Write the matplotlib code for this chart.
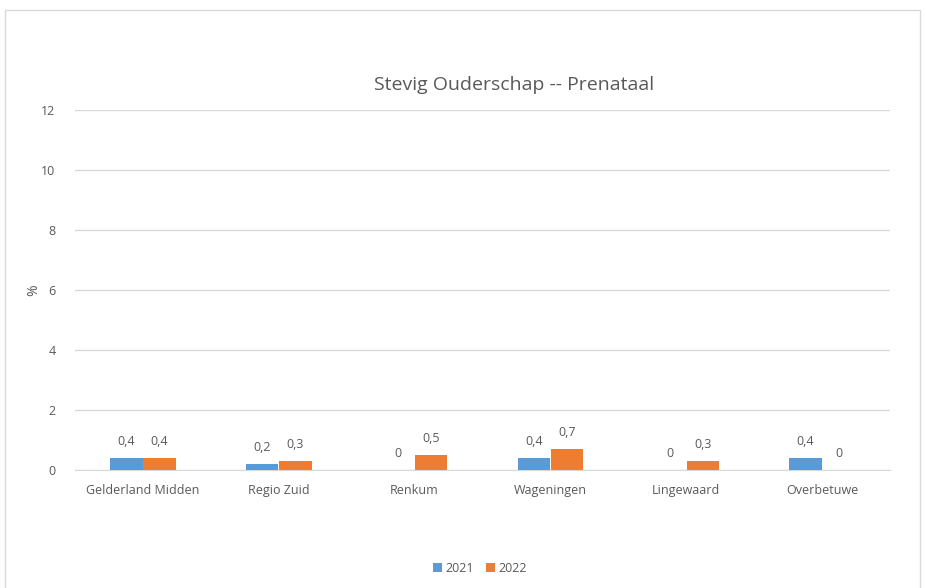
import matplotlib
matplotlib.use("Agg")
import matplotlib.pyplot as plt
import numpy as np
from matplotlib.patches import Rectangle

categories = ["Gelderland Midden", "Regio Zuid", "Renkum", "Wageningen", "Lingewaard", "Overbetuwe"]
series_names = ["2021", "2022"]
values_2021 = [0.4, 0.2, 0, 0.4, 0, 0.4]
values_2022 = [0.4, 0.3, 0.5, 0.7, 0.3, 0]
yticks = [0, 2, 4, 6, 8, 10, 12]

colors = ["#5B9BD5", "#ED7D31"]
text_color = "#595959"
plt.rcParams['font.family'] = ['Open Sans', 'DejaVu Sans']

fig = plt.figure(figsize=(9.26, 5.88), dpi=100)
ax = fig.add_axes([75/926, 1-470/588, (890-75)/926, (470-110)/588])

x = np.arange(len(categories))
w = 0.24
gap = 0.004
for i, (vals, name) in enumerate(zip([values_2021, values_2022], series_names)):
    offs = (-w/2 - gap/2) if i == 0 else (w/2 + gap/2)
    ax.bar(x + offs, vals, width=w, color=colors[i], label=name, zorder=3)
    for xi, v in zip(x + offs, vals):
        ax.annotate(f"{v}".replace(".", ","), (xi, v), xytext=(0, 7), textcoords="offset points",
                    ha="center", va="bottom", fontsize=9, color=text_color)

ax.set_xlim(-0.5, len(categories) - 0.5)
ax.set_ylim(0, 12)
ax.set_yticks(yticks)
ax.set_yticklabels([str(t) for t in yticks], fontsize=9, color=text_color)
ax.set_xticks(x)
ax.set_xticklabels(categories, fontsize=9, color=text_color)
ax.tick_params(axis="both", length=0)
ax.tick_params(axis="y", pad=14)
ax.tick_params(axis="x", pad=10)
ax.grid(axis="y", color="#D9D9D9", linewidth=1, zorder=0)
for s in ["top", "right", "left"]:
    ax.spines[s].set_visible(False)
ax.spines["bottom"].set_color("#D9D9D9")

fig.text(34/926, 1-290/588, "%", rotation=90, ha="center", va="center", fontsize=10, color=text_color)

fig.text(514/926, 1-85/588, "Stevig Ouderschap -- Prenataal", ha="center", va="center",
         fontsize=14, color=text_color)

leg = fig.legend(loc="center", bbox_to_anchor=(480/926, 1-568/588), ncol=2, frameon=False,
                 fontsize=9, handlelength=0.7, handleheight=0.7, handletextpad=0.3, columnspacing=1.0)
for t in leg.get_texts():
    t.set_color(text_color)

fig.patches.append(Rectangle((5/926, -0.05), (920-5)/926, 1-10/588 + 0.05, transform=fig.transFigure,
                             fill=False, edgecolor="#D9D9D9", linewidth=1))

fig.savefig("out.png", dpi=100)
